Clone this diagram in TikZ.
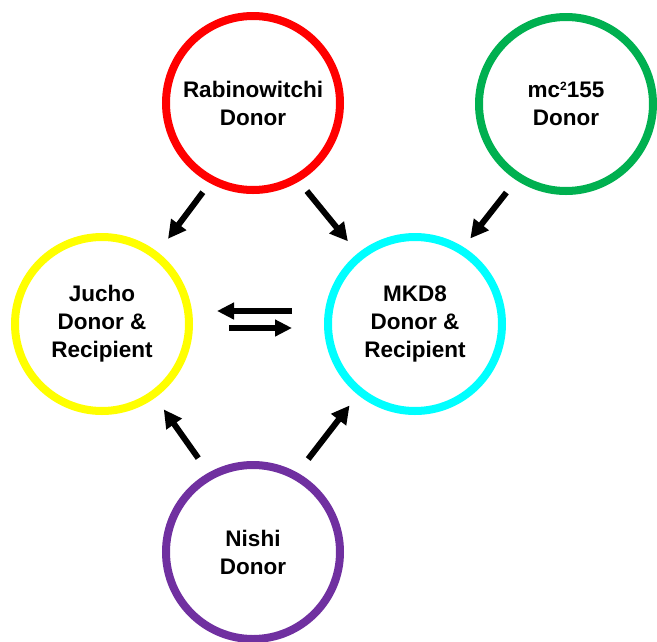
\documentclass[tikz,border=0pt]{standalone}
\usepackage{fontspec}
\setmainfont{Liberation Sans}
\usetikzlibrary{arrows.meta}
\definecolor{cred}{RGB}{255,0,0}
\definecolor{cgreen}{RGB}{0,176,80}
\definecolor{cyellow}{RGB}{255,255,0}
\definecolor{ccyan}{RGB}{0,255,255}
\definecolor{cpurple}{RGB}{112,48,160}
\tikzset{
  bubble/.style={circle, draw=#1, line width=8pt, minimum size=174pt, inner sep=0pt, outer sep=0pt,
    align=center, font=\fontsize{22.5}{28}\selectfont\bfseries},
  arr/.style={line width=6pt, -{Triangle[length=18pt,width=18pt]}},
  eqarr/.style={line width=6pt, -{Triangle[length=17pt,width=16pt]}}
}
\newcommand{\smallsup}[1]{\raisebox{7.5pt}{\fontsize{12}{12}\selectfont #1}}
\begin{document}
\begin{tikzpicture}[x=1pt,y=-1pt]
\useasboundingbox (0,0) rectangle (657,641);
\node[bubble=cred] (rab) at (253,103) {Rabinowitchi\\Donor};
\node[bubble=cgreen] (mc) at (566,104) {mc\smallsup{2}155\\Donor};
\node[bubble=cyellow] (jucho) at (102,324) {Jucho\\Donor \&\\Recipient};
\node[bubble=ccyan] (mkd) at (415,324) {MKD8\\Donor \&\\Recipient};
\node[bubble=cpurple] (nishi) at (253,552) {Nishi\\Donor};
\draw[arr, shorten <=15.5pt, shorten >=20.8pt] (rab.-118.6) -- (jucho.52.9);
\draw[arr, shorten <=16.4pt, shorten >=19.5pt] (rab.-60.5) -- (mkd.129.7);
\draw[arr, shorten <=19.8pt, shorten >=14.9pt] (mc.-123.5) -- (mkd.58.6);
\draw[arr, shorten <=21.8pt, shorten >=18.4pt] (nishi.119.2) -- (jucho.-54.6);
\draw[arr, shorten <=21.3pt, shorten >=17.5pt] (nishi.61.3) -- (mkd.-129.2);
\draw[eqarr, shorten <=36pt, shorten >=28pt] ([yshift=13pt]mkd.west) -- ([yshift=13pt]jucho.east);
\draw[eqarr, shorten <=40pt, shorten >=36pt] ([yshift=-4pt]jucho.east) -- ([yshift=-4pt]mkd.west);
\end{tikzpicture}
\end{document}
